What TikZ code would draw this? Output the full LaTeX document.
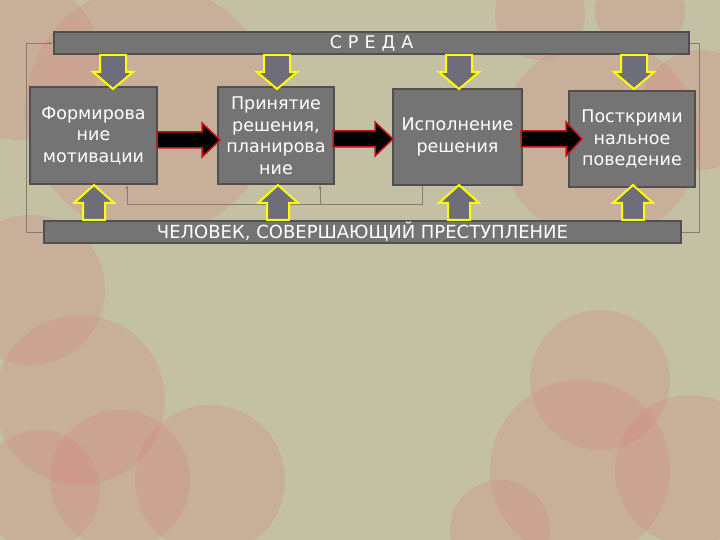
\documentclass[tikz,border=0pt]{standalone}
\usepackage{fontspec}
\setmainfont{DejaVu Sans}
\usetikzlibrary{arrows.meta}
\definecolor{bg}{RGB}{196,192,164}
\definecolor{pinkc}{RGB}{214,128,122}
\definecolor{boxfill}{RGB}{116,116,116}
\definecolor{boxline}{RGB}{80,80,80}
\definecolor{yarr}{RGB}{255,255,0}
\definecolor{yfill}{RGB}{110,110,122}
\definecolor{fbline}{RGB}{128,128,116}
\definecolor{redline}{RGB}{200,20,20}
\tikzset{
 box/.style={draw=boxline, line width=1.5pt, fill=boxfill, text=white, align=center, inner sep=0pt, font=\fontsize{17.5}{21.5}\selectfont},
 bar/.style={draw=boxline, line width=1.5pt, fill=boxfill, text=white, inner sep=0pt, minimum height=22, font=\fontsize{17.5}{20}\selectfont},
 yarrow/.style={draw=yarr, line width=2pt, fill=yfill, line join=miter},
 blkarrow/.style={draw=redline, line width=1.5pt, fill=black, line join=miter},
 fb/.style={draw=fbline, line width=0.8pt},
 fbarrow/.style={fb, -{Latex[length=4pt,width=3pt]}},
 bubble/.style={fill=pinkc, fill opacity=0.25}
}
\newcommand\downarr[1]{\draw[yarrow] (#1-13,55) -- (#1+13,55) -- (#1+13,72) -- (#1+20,72) -- (#1,89) -- (#1-20,72) -- (#1-13,72) -- cycle;}
\newcommand\uparr[1]{\draw[yarrow] (#1-11,220) -- (#1-11,203) -- (#1-20,203) -- (#1,185) -- (#1+20,203) -- (#1+11,203) -- (#1+11,220) -- cycle;}
\newcommand\blkarr[4]{\draw[blkarrow] (#1,#4-8) -- (#2,#4-8) -- (#2,#4-17) -- (#3,#4) -- (#2,#4+17) -- (#2,#4+8) -- (#1,#4+8) -- cycle;}
\begin{document}
\begin{tikzpicture}[x=1pt,y=-1pt]
\useasboundingbox (0,0) rectangle (720,540);
\fill[bg] (0,0) rectangle (720,540);
% background bubbles
\begin{scope}
\clip (0,0) rectangle (720,540);
\fill[bubble] (150,110) circle (125);
\fill[bubble] (20,60) circle (80);
\fill[bubble] (30,290) circle (75);
\fill[bubble] (80,400) circle (85);
\fill[bubble] (40,490) circle (60);
\fill[bubble] (120,480) circle (70);
\fill[bubble] (210,480) circle (75);
\fill[bubble] (540,15) circle (45);
\fill[bubble] (640,10) circle (45);
\fill[bubble] (600,140) circle (100);
\fill[bubble] (700,110) circle (60);
\fill[bubble] (600,380) circle (70);
\fill[bubble] (580,470) circle (90);
\fill[bubble] (690,470) circle (75);
\fill[bubble] (500,530) circle (50);
\end{scope}
% bars
\node[bar, minimum width=635] (env) at (371.5,43) {С\hspace{6pt}Р\hspace{6pt}Е\hspace{6pt}Д\hspace{6pt}А};
\node[bar, minimum width=637, font=\fontsize{18}{20}\selectfont] (man) at (362.5,232) {ЧЕЛОВЕК, СОВЕРШАЮЩИЙ ПРЕСТУПЛЕНИЕ};
% frame lines
\draw[fbarrow] (man.west) -- ++(-17,0) |- (env.west);
\draw[fb] (env.east) -- ++(10,0) |- (man.east);
% boxes
\node[box, minimum width=127, minimum height=97] (b1) at (93.5,135.5) {Формирова\\ние\\мотивации};
\node[box, minimum width=116, minimum height=97] (b2) at (276,135.5) {Принятие\\решения,\\планирова\\ние};
\node[box, minimum width=129, minimum height=96] (b3) at (457.5,137) {Исполнение\\решения};
\node[box, minimum width=126, minimum height=96] (b4) at (632,139) {Посткрими\\нальное\\поведение};
% feedback
\draw[fbarrow] ([xshift=-35.5]b3.south) -- ++(0,19) -| ([xshift=33.5]b1.south);
\coordinate (j) at (320,204);
\draw[fbarrow] (j) -- (j |- b2.south);
% yellow arrows
\downarr{113}\downarr{277}\downarr{459}\downarr{634}
\uparr{94}\uparr{278}\uparr{459}\uparr{633}
% black arrows
\blkarr{157}{202}{220}{140}
\blkarr{333}{375}{393}{139}
\blkarr{521}{566}{582}{139}
\end{tikzpicture}
\end{document}
